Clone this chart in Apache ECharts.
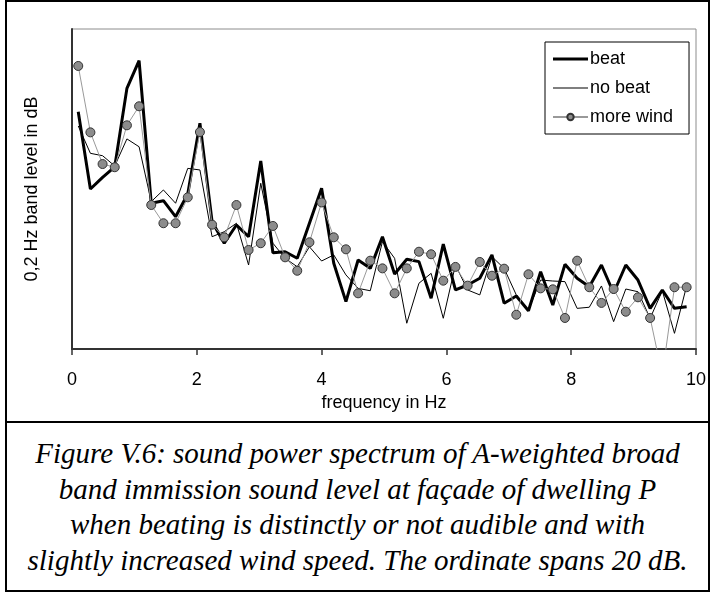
<!DOCTYPE html>
<html>
<head>
<meta charset="utf-8">
<script src="https://cdn.jsdelivr.net/npm/echarts@6/dist/echarts.min.js"></script>
<style>
  html, body { margin: 0; padding: 0; background: #fff; }
  #wrap { position: relative; width: 711px; height: 594px; overflow: hidden; }
  #chart { position: absolute; left: 0; top: 0; width: 711px; height: 422px; }
  #caption {
    position: absolute; left: 5px; top: 422px; width: 705px; height: 170px;
    display: flex; align-items: center; justify-content: center; text-align: center;
    font-family: "Liberation Serif", "DejaVu Serif", serif; font-style: italic;
    font-size: 29px; line-height: 35.5px; color: #000;
  }
  #frame {
    position: absolute; left: 5px; top: 0; width: 705px; height: 592px;
    border: 2px solid #000; box-sizing: border-box; pointer-events: none;
  }
  #divider { position: absolute; left: 5px; top: 421px; width: 705px; height: 2px; background: #000; }
</style>
</head>
<body>
<div id="wrap">
  <div id="chart"></div>
  <div id="caption">Figure V.6: sound power spectrum of A-weighted broad<br>band immission sound level at façade of dwelling P<br>when beating is distinctly or not audible and with<br>slightly increased wind speed. The ordinate spans 20 dB.</div>
  <div id="divider"></div>
  <div id="frame"></div>
</div>
<script>
// frequency in Hz
const freq = [0.1, 0.295, 0.49, 0.685, 0.88, 1.075, 1.27, 1.465, 1.66, 1.855,
  2.05, 2.245, 2.44, 2.635, 2.83, 3.025, 3.22, 3.415, 3.61, 3.805,
  4.0, 4.195, 4.39, 4.585, 4.78, 4.975, 5.17, 5.365, 5.56, 5.755,
  5.95, 6.145, 6.34, 6.535, 6.73, 6.925, 7.12, 7.315, 7.51, 7.705,
  7.9, 8.095, 8.29, 8.485, 8.68, 8.875, 9.07, 9.265, 9.46, 9.655, 9.85]

// band level, dB above the bottom of the 20 dB window
const beat = [14.83, 10.0, 10.73, 11.39, 16.29, 18.02, 9.11, 9.27, 8.27, 9.69,
  14.11, 7.96, 6.61, 7.75, 7.02, 11.75, 6.02, 6.08, 5.67, 7.86,
  10.04, 5.36, 2.96, 5.56, 5.04, 7.02, 4.69, 5.61, 5.46, 3.17,
  6.56, 3.69, 4.0, 4.42, 5.88, 2.86, 3.31, 2.39, 4.83, 2.75,
  5.29, 4.42, 3.89, 5.25, 3.5, 5.25, 4.31, 2.54, 3.69, 2.54, 2.64]

const noBeat = [13.94, 12.23, 12.08, 11.44, 13.13, 12.64, 9.21, 9.94, 9.11, 11.29,
  11.19, 7.02, 7.33, 7.86, 5.25, 10.36, 6.61, 5.67, 5.14, 6.39,
  5.5, 5.88, 4.63, 3.79, 3.64, 6.71, 5.67, 1.61, 4.11, 4.73,
  1.92, 5.25, 3.69, 3.38, 5.77, 5.04, 3.38, 2.44, 4.31, 4.25,
  4.21, 2.54, 2.61, 3.94, 1.71, 3.75, 3.58, 1.92, 3.64, 0.98, 3.94]

const moreWind = [17.69, 13.54, 11.56, 11.36, 13.98, 15.17, 9.0, 7.86, 7.86, 9.48,
  13.56, 7.77, 6.98, 9.0, 6.19, 6.61, 7.69, 5.73, 4.89, 6.67,
  9.16, 6.98, 6.23, 3.48, 5.52, 5.04, 3.48, 5.04, 6.08, 5.92,
  4.27, 5.13, 3.96, 5.44, 4.58, 5.02, 2.14, 4.67, 3.79, 3.73,
  1.94, 5.52, 3.86, 2.88, 3.75, 2.33, 3.23, 1.94, -1.63, 3.86, 3.86]

const xTicks = [0, 2, 4, 6, 8, 10]

const font = 'Liberation Sans, Arial, sans-serif'

function pairs(ys) {
  return freq.map((f, i) => [f, ys[i]])
}

const chart = echarts.init(document.getElementById('chart'))
chart.setOption({
  animation: false,
  grid: {
    left: 72, right: 15, top: 29, bottom: 73,
    show: true, borderColor: '#8c8c8c', borderWidth: 1
  },
  legend: {
    orient: 'vertical',
    left: 545,
    top: 42,
    padding: [8, 16, 8, 7],
    itemGap: 11,
    itemWidth: 35,
    itemHeight: 8,
    borderColor: '#000',
    borderWidth: 1,
    textStyle: { color: '#000', fontSize: 18, fontFamily: font, padding: [0, 0, 0, -3] },
    data: [
      { name: 'beat', icon: 'path://M0,0H35V3H0Z' },
      { name: 'no beat', icon: 'path://M0,0H35V1H0Z' },
      { name: 'more wind' }
    ]
  },
  xAxis: {
    type: 'value',
    min: xTicks[0],
    max: xTicks[xTicks.length - 1],
    interval: 2,
    name: 'frequency in Hz',
    nameLocation: 'middle',
    nameGap: 44,
    nameTextStyle: { color: '#000', fontSize: 18, fontFamily: font },
    axisLine: { lineStyle: { color: '#333', width: 2 } },
    axisTick: { show: true, length: 6, lineStyle: { color: '#333', width: 1.5 } },
    axisLabel: { color: '#000', fontSize: 18, margin: 22, fontFamily: font },
    splitLine: { show: false }
  },
  yAxis: {
    type: 'value',
    min: 0,
    max: 20,
    name: '0,2 Hz band level in dB',
    nameLocation: 'middle',
    nameGap: 31,
    nameTextStyle: { color: '#000', fontSize: 18, fontFamily: font },
    axisLine: { show: true, lineStyle: { color: '#333', width: 2 } },
    axisTick: { show: false },
    axisLabel: { show: false },
    splitLine: { show: false }
  },
  series: [
    {
      name: 'beat',
      type: 'line',
      data: pairs(beat),
      symbol: 'none',
      color: '#000',
      lineStyle: { color: '#000', width: 3 }
    },
    {
      name: 'no beat',
      type: 'line',
      data: pairs(noBeat),
      symbol: 'none',
      color: '#000',
      lineStyle: { color: '#000', width: 1 }
    },
    {
      name: 'more wind',
      type: 'line',
      data: pairs(moreWind),
      symbol: 'circle',
      symbolSize: 9,
      showAllSymbol: true,
      itemStyle: { color: '#8c8c8c', borderColor: '#333', borderWidth: 1 },
      lineStyle: { color: '#999', width: 1 }
    }
  ]
})
</script>
</body>
</html>
